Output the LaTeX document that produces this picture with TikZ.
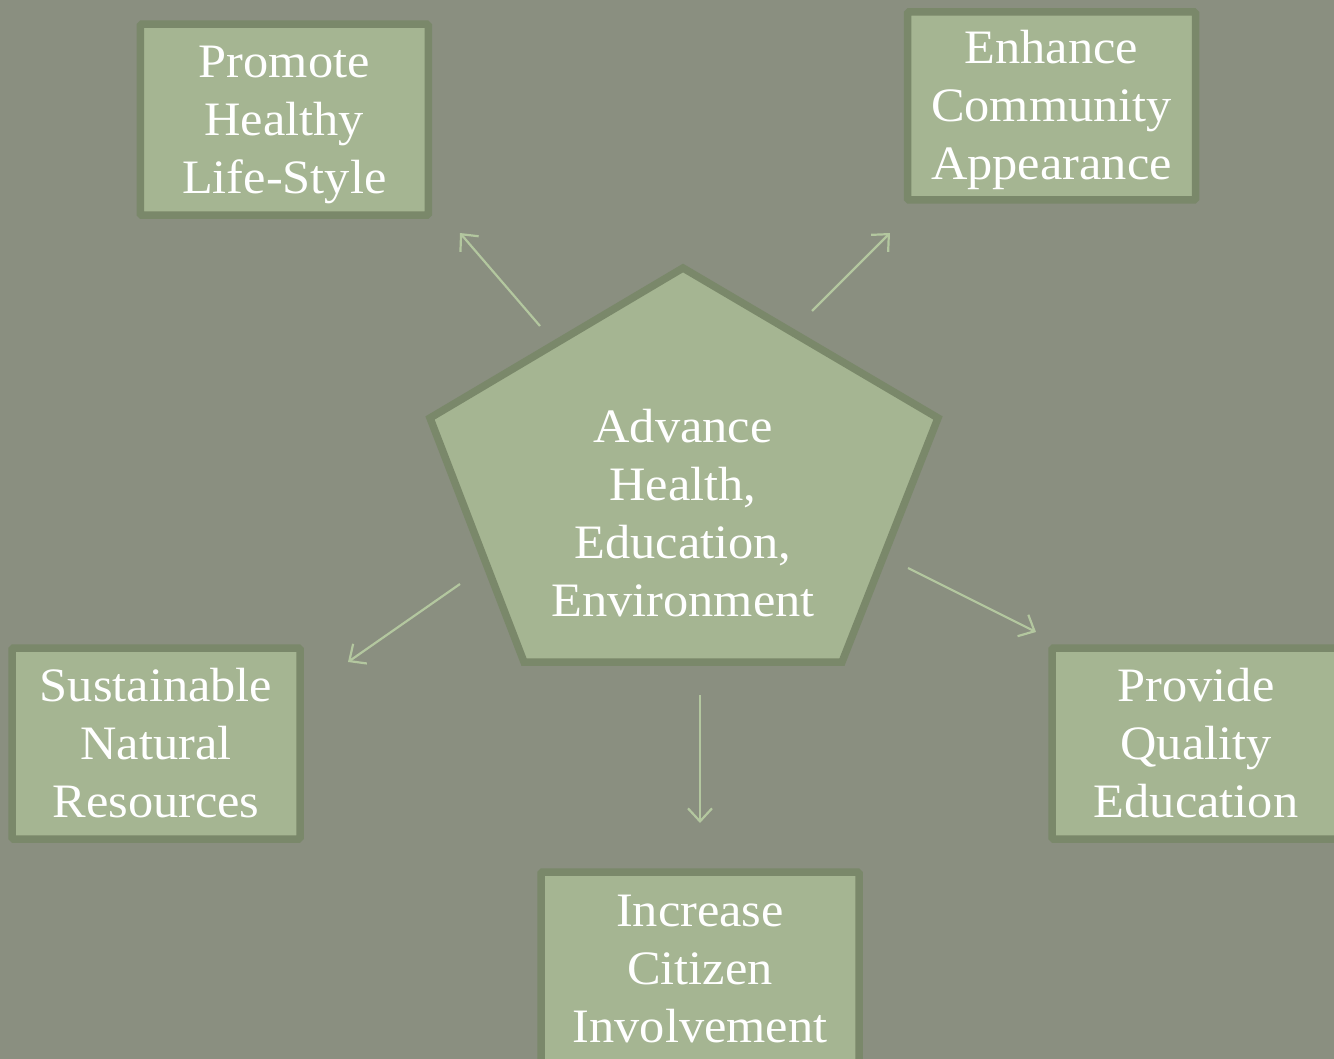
\documentclass[tikz,border=0pt]{standalone}
\usepackage{fontspec}
\setmainfont[FakeStretch=1.05]{Liberation Serif}
\usetikzlibrary{arrows.meta}
\definecolor{bgc}{HTML}{8A8F80}
\definecolor{boxfill}{HTML}{A5B592}
\definecolor{boxline}{HTML}{7A886A}
\definecolor{arrc}{HTML}{B3C79F}
\newcommand\topfix{\rule{0pt}{46pt}}
\newcommand\botfix{\rule[-14pt]{0pt}{0pt}}
\begin{document}
\begin{tikzpicture}[x=1pt,y=-1pt,
  goalbox/.style={draw=boxline, fill=boxfill, line width=7.5pt, rectangle, rounded corners=1.5pt,
    minimum width=288pt, minimum height=191pt, inner sep=0pt,
    align=center, text=white, font=\fontsize{48}{58}\selectfont},
  linkarrow/.style={draw=arrc, line width=2.2pt, -{Straight Barb[length=13pt,width=24pt,line width=2.2pt]}}]
\fill[bgc] (0,0) rectangle (1334,1059);
\useasboundingbox (0,0) rectangle (1334,1059);
% central pentagon
\draw[draw=boxline, fill=boxfill, line width=7.5pt, line join=miter]
  (683,268) -- (938,418) -- (842,662) -- (524,662) -- (430,418) -- cycle;
\node[align=center, inner sep=0pt, text=white, font=\fontsize{48}{58}\selectfont] (core) at (683,513)
  {\topfix Advance\\Health,\\Education,\\Environment\botfix};
% goal boxes
\node[goalbox] (promote) at (284.25,119.75) {\topfix Promote\\Healthy\\Life-Style\botfix};
\node[goalbox, minimum height=188pt] (enhance) at (1051.5,106) {\topfix Enhance\\Community\\Appearance\botfix};
\node[goalbox] (sustain) at (156,743.5) {\topfix Sustainable\\Natural\\Resources\botfix};
\node[goalbox] (provide) at (1196,743.5) {\topfix Provide\\Quality\\Education\botfix};
\node[goalbox, minimum width=318pt, minimum height=192pt] (increase) at (700,968) {\topfix Increase\\Citizen\\Involvement\botfix};
% arrow end points
\coordinate (a1s) at (540,326); \coordinate (a1e) at (460,233);
\coordinate (a2s) at (812,311); \coordinate (a2e) at (890,233);
\coordinate (a3s) at (460,584); \coordinate (a3e) at (348,662);
\coordinate (a4s) at (908,568); \coordinate (a4e) at (1036,632);
\coordinate (a5s) at (700,695); \coordinate (a5e) at (700,823);
\draw[linkarrow] (a1s) -- (a1e);
\draw[linkarrow] (a2s) -- (a2e);
\draw[linkarrow] (a3s) -- (a3e);
\draw[linkarrow] (a4s) -- (a4e);
\draw[linkarrow] (a5s) -- (a5e);
\end{tikzpicture}
\end{document}
